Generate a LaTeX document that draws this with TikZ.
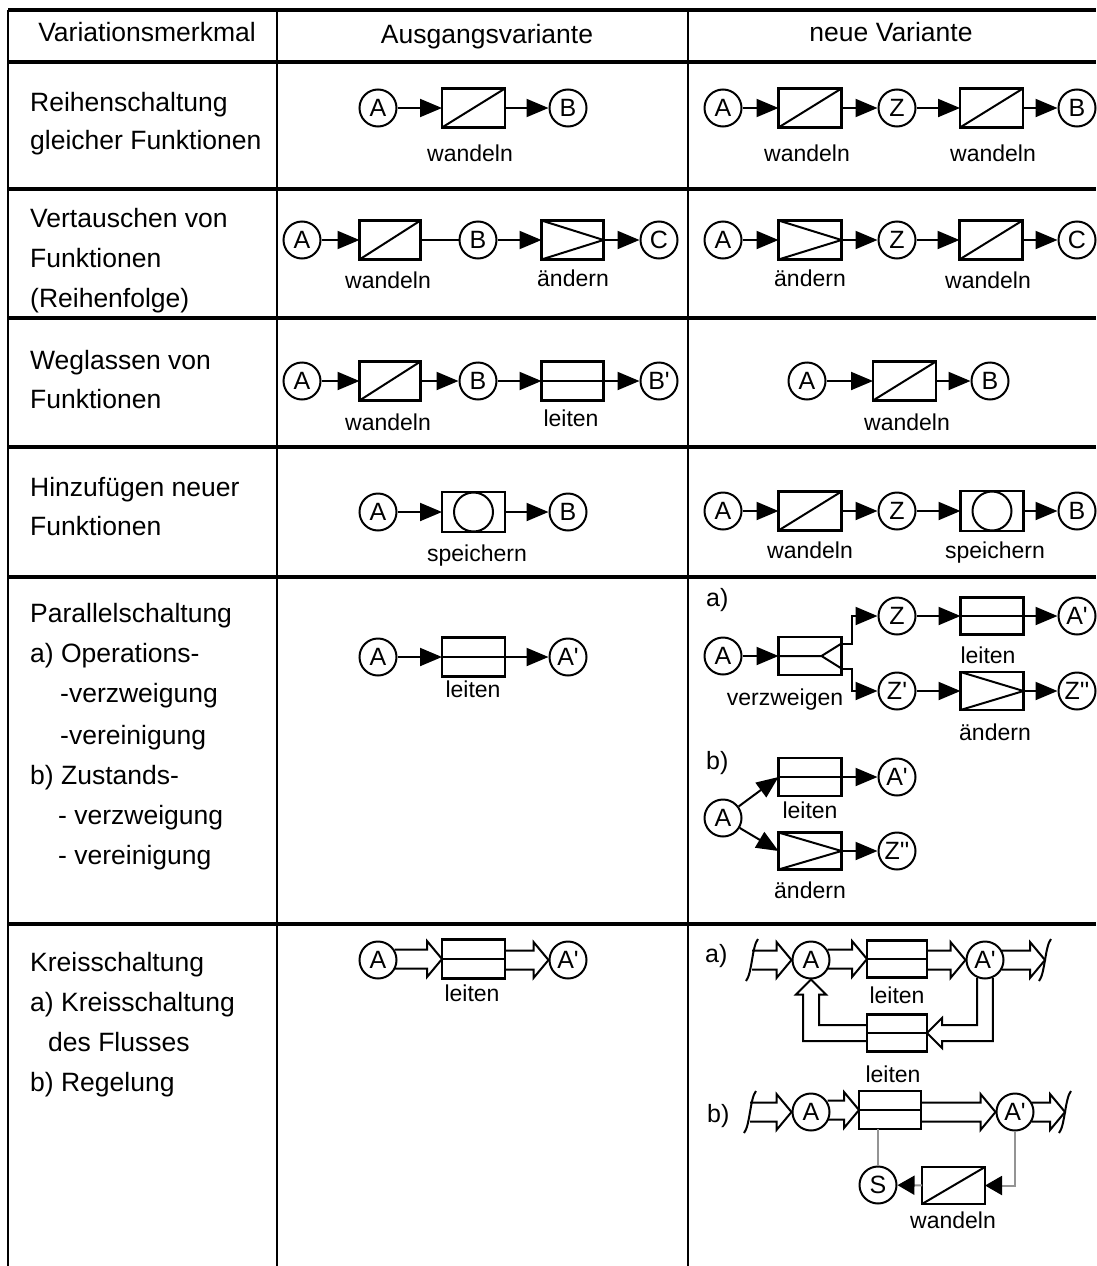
\documentclass[tikz,border=0pt]{standalone}
\usepackage{fontspec}
\setmainfont{Liberation Sans}
\usetikzlibrary{arrows.meta,calc}

\newcommand\pq{\textquotesingle}
% function symbols drawn inside a box node
\newcommand\fwand[1]{\draw[sym] (#1.south west) -- (#1.north east);}
\newcommand\fleit[1]{\draw[sym] (#1.west) -- (#1.east);}
\newcommand\faend[1]{\draw[sym] (#1.north west) -- (#1.east) -- (#1.south west);}
\newcommand\fspei[1]{\draw[sym] (#1.center) circle[radius=19.5pt];}
\newcommand\fverz[1]{\draw[sym] (#1.west) -- ($(#1.east)+(-20,0)$) -- ($(#1.east)+(0,-12.5)$)
  ($(#1.east)+(-20,0)$) -- ($(#1.east)+(0,12.5)$);}
% hollow flow arrow (horizontal): x of #1 is the tail, #2 is the tip
\newcommand\harr[2]{\draw[hol] let \p1=#1, \p2=#2 in
  (\x1,\y2+9.5pt) -- (\x2-15pt,\y2+9.5pt) -- (\x2-15pt,\y2+18pt) -- (\p2)
  -- (\x2-15pt,\y2-18pt) -- (\x2-15pt,\y2-9.5pt) -- (\x1,\y2-9.5pt);}
% cut mark at an open end of a flow
\newcommand\cutmark[1]{\draw[sym] ($#1+(6,-21)$) .. controls ($#1+(0,-14)$) and ($#1+(0,14)$) .. ($#1+(-6,21)$);}

\tikzset{
  every node/.style={inner sep=0pt},
  circ/.style={circle,draw,line width=2pt,minimum size=37pt,fill=white,
    font=\fontsize{25}{25}\selectfont},
  fbox/.style={draw,line width=2.2pt,minimum width=63pt,minimum height=39pt,outer sep=0pt},
  lbl/.style={font=\fontsize{23}{23}\selectfont,anchor=base},
  txt/.style={font=\fontsize{26.5}{30}\selectfont,anchor=base west},
  head/.style={font=\fontsize{26.5}{30}\selectfont,anchor=base},
  part/.style={font=\fontsize{25}{25}\selectfont,anchor=base west},
  sym/.style={line width=2pt},
  plain/.style={line width=2pt},
  flow/.style={line width=2pt,-{Triangle[length=22pt,width=18pt]}},
  hol/.style={line width=2pt,line join=miter},
  sig/.style={line width=2pt,draw=black!42},
  sigarr/.style={sig,-{Triangle[length=17pt,width=19pt,color=black]}},
  rowline/.style={line width=3.5pt},
  colline/.style={line width=2pt},
}

\begin{document}
\begin{tikzpicture}[x=1pt,y=-1pt]
\useasboundingbox (0,0) rectangle (1096,1266);

% ---------- table grid ----------
\foreach \yy in {10,62,189,318,447,577,924}
  \draw[rowline] (8,\yy) -- (1096,\yy);
\foreach \xx in {8,277,688}
  \draw[colline] (\xx,10) -- (\xx,1266);

% ---------- header ----------
\node[head] (h1) at (147,41.5) {Variationsmerkmal};
\node[head] (h2) at (487,43) {Ausgangsvariante};
\node[head] (h3) at (891,41.5) {neue Variante};

% ---------- left column ----------
\node[txt] at (30,111) {Reihenschaltung};
\node[txt] at (30,149.5) {gleicher Funktionen};
\node[txt] at (30,227.5) {Vertauschen von};
\node[txt] at (30,267.5) {Funktionen};
\node[txt] at (30,307.5) {(Reihenfolge)};
\node[txt] at (30,369) {Weglassen von};
\node[txt] at (30,408) {Funktionen};
\node[txt] at (30,496) {Hinzufügen neuer};
\node[txt] at (30,535) {Funktionen};
\node[txt] at (30,622) {Parallelschaltung};
\node[txt] at (30,662) {a) Operations-};
\node[txt] at (60,702) {-verzweigung};
\node[txt] at (60,744) {-vereinigung};
\node[txt] at (30,784) {b) Zustands-};
\node[txt] at (58,824) {- verzweigung};
\node[txt] at (58,864) {- vereinigung};
\node[txt] at (30,971) {Kreisschaltung};
\node[txt] at (30,1011) {a) Kreisschaltung};
\node[txt] at (48,1051) {des Flusses};
\node[txt] at (30,1091) {b) Regelung};

% ---------- row 1: Reihenschaltung ----------
\node[circ] (a1A) at (378,108) {A};
\node[fbox] (a1W) at (473.5,108) {};
\node[circ] (a1B) at (568,108) {B};
\draw[flow] (a1A) -- (a1W);
\draw[flow] (a1W) -- (a1B);
\fwand{a1W}
\node[lbl] at (470,161) {wandeln};

\node[circ] (n1A) at (723,108) {A};
\node[fbox] (n1W1) at (810,108) {};
\node[circ] (n1Z) at (897,108) {Z};
\node[fbox] (n1W2) at (991.5,108) {};
\node[circ] (n1B) at (1077,108) {B};
\draw[flow] (n1A) -- (n1W1);
\draw[flow] (n1W1) -- (n1Z);
\draw[flow] (n1Z) -- (n1W2);
\draw[flow] (n1W2) -- (n1B);
\fwand{n1W1} \fwand{n1W2}
\node[lbl] at (807,161) {wandeln};
\node[lbl] at (993,161) {wandeln};

% ---------- row 2: Vertauschen ----------
\node[circ] (a2A) at (302,240) {A};
\node[fbox,minimum width=61pt] (a2W) at (390,240) {};
\node[circ] (a2B) at (478,240) {B};
\node[fbox,minimum width=62pt] (a2N) at (572.5,240) {};
\node[circ] (a2C) at (659,240) {C};
\draw[flow] (a2A) -- (a2W);
\draw[plain] (a2W) -- (a2B);
\draw[flow] (a2B) -- (a2N);
\draw[flow] (a2N) -- (a2C);
\fwand{a2W} \faend{a2N}
\node[lbl] at (388,288) {wandeln};
\node[lbl] at (573,286) {ändern};

\node[circ] (n2A) at (723,240) {A};
\node[fbox] (n2N) at (810,240) {};
\node[circ] (n2Z) at (897,240) {Z};
\node[fbox] (n2W) at (991,240) {};
\node[circ] (n2C) at (1077,240) {C};
\draw[flow] (n2A) -- (n2N);
\draw[flow] (n2N) -- (n2Z);
\draw[flow] (n2Z) -- (n2W);
\draw[flow] (n2W) -- (n2C);
\faend{n2N} \fwand{n2W}
\node[lbl] at (810,286) {ändern};
\node[lbl] at (988,288) {wandeln};

% ---------- row 3: Weglassen ----------
\node[circ] (a3A) at (302,381) {A};
\node[fbox,minimum width=61pt] (a3W) at (390,381) {};
\node[circ] (a3B) at (478,381) {B};
\node[fbox,minimum width=62pt] (a3L) at (572.5,381) {};
\node[circ] (a3Bp) at (659,381) {B\pq};
\draw[flow] (a3A) -- (a3W);
\draw[flow] (a3W) -- (a3B);
\draw[flow] (a3B) -- (a3L);
\draw[flow] (a3L) -- (a3Bp);
\fwand{a3W} \fleit{a3L}
\node[lbl] at (388,430) {wandeln};
\node[lbl] at (571,426) {leiten};

\node[circ] (n3A) at (807,381) {A};
\node[fbox] (n3W) at (904.5,381) {};
\node[circ] (n3B) at (990,381) {B};
\draw[flow] (n3A) -- (n3W);
\draw[flow] (n3W) -- (n3B);
\fwand{n3W}
\node[lbl] at (907,430) {wandeln};

% ---------- row 4: Hinzufuegen ----------
\node[circ] (a4A) at (378,512) {A};
\node[fbox,minimum height=40pt] (a4S) at (473.5,512) {};
\node[circ] (a4B) at (568,512) {B};
\draw[flow] (a4A) -- (a4S);
\draw[flow] (a4S) -- (a4B);
\fspei{a4S}
\node[lbl] at (477,561) {speichern};

\node[circ] (n4A) at (723,511) {A};
\node[fbox] (n4W) at (810,511) {};
\node[circ] (n4Z) at (897,511) {Z};
\node[fbox,minimum height=40pt] (n4S) at (992,511) {};
\node[circ] (n4B) at (1077,511) {B};
\draw[flow] (n4A) -- (n4W);
\draw[flow] (n4W) -- (n4Z);
\draw[flow] (n4Z) -- (n4S);
\draw[flow] (n4S) -- (n4B);
\fwand{n4W} \fspei{n4S}
\node[lbl] at (810,558) {wandeln};
\node[lbl] at (995,558) {speichern};

% ---------- row 5: Parallelschaltung ----------
\node[circ] (a5A) at (378,657) {A};
\node[fbox] (a5L) at (473.5,657) {};
\node[circ] (a5Ap) at (568,657) {A\pq};
\draw[flow] (a5A) -- (a5L);
\draw[flow] (a5L) -- (a5Ap);
\fleit{a5L}
\node[lbl] at (473,697) {leiten};

% a) operation branching
\node[part] at (706,606) {a)};
\node[circ] (p5A) at (723,656) {A};
\node[fbox,minimum height=38pt] (p5V) at (810,656) {};
\node[circ] (p5Z) at (897,616) {Z};
\node[fbox,minimum height=37pt] (p5L) at (992,616) {};
\node[circ] (p5Ap) at (1077,616) {A\pq};
\node[circ] (p5Zp) at (897,691) {Z\pq};
\node[fbox,minimum height=38pt] (p5N) at (992,691) {};
\node[circ] (p5Zpp) at (1077,691) {Z\pq\pq};
\draw[flow] (p5A) -- (p5V);
\draw[flow] ($(p5V.east)+(0,-12.5)$) -- ++(10,0) |- (p5Z);
\draw[flow] ($(p5V.east)+(0,12.5)$) -- ++(10,0) |- (p5Zp);
\draw[flow] (p5Z) -- (p5L);
\draw[flow] (p5L) -- (p5Ap);
\draw[flow] (p5Zp) -- (p5N);
\draw[flow] (p5N) -- (p5Zpp);
\fverz{p5V} \fleit{p5L} \faend{p5N}
\node[lbl] at (785,705) {verzweigen};
\node[lbl] at (988,663) {leiten};
\node[lbl] at (995,740) {ändern};

% b) state branching
\node[part] at (706,769) {b)};
\node[circ] (q5A) at (723,818) {A};
\node[fbox,minimum height=38pt] (q5L) at (810,777) {};
\node[circ] (q5Ap) at (897,777) {A\pq};
\node[fbox,minimum height=37pt] (q5N) at (810,851) {};
\node[circ] (q5Zpp) at (897,851) {Z\pq\pq};
\draw[flow] (q5A) -- (q5L.west);
\draw[flow] (q5A) -- (q5N.west);
\draw[flow] (q5L) -- (q5Ap);
\draw[flow] (q5N) -- (q5Zpp);
\fleit{q5L} \faend{q5N}
\node[lbl] at (810,818) {leiten};
\node[lbl] at (810,898) {ändern};

% ---------- row 6: Kreisschaltung ----------
\node[circ] (a6A) at (378,960) {A};
\node[fbox] (a6L) at (473.5,959) {};
\node[circ] (a6Ap) at (568,960) {A\pq};
\harr{(a6A.31)}{(a6L.west)}
\harr{(a6L.east)}{(a6Ap.west)}
\fleit{a6L}
\node[lbl] at (472,1001) {leiten};

% a) circulation of the flow
\node[part] at (705,962) {a)};
\coordinate (k6in) at (752,960);
\coordinate (k6out) at (1045,960);
\node[circ] (k6A) at (811,960) {A};
\node[fbox,minimum width=60pt,minimum height=37pt] (k6L1) at (897,959) {};
\node[circ] (k6Ap) at (985,960) {A\pq};
\node[fbox,minimum width=60pt,minimum height=37pt] (k6L2) at (897,1033) {};
\cutmark{(k6in)} \cutmark{(k6out)}
\harr{(k6in)}{(k6A.west)}
\harr{(k6A.31)}{(k6L1.west)}
\harr{(k6L1.east)}{(k6Ap.west)}
\harr{(k6Ap.31)}{(k6out)}
\fleit{k6L1} \fleit{k6L2}
% return flow A' -> lower box -> A
\draw[hol] let \p1=(k6Ap.-114), \p2=(k6Ap.-66), \p3=(k6L2.east) in
  (\p1) -- (\x1,\y3+8pt) -- (\x3+15pt,\y3+8pt) -- (\x3+15pt,\y3+15pt) -- (\p3)
  -- (\x3+15pt,\y3-15pt) -- (\x3+15pt,\y3-8pt) -- (\x2,\y3-8pt) -- (\p2);
\draw[hol] let \p1=(k6L2.west), \p2=(k6A.south) in
  (\x1,\y1+8pt) -- (\x2+8pt,\y1+8pt) -- (\x2+8pt,\y2-15pt) -- (\x2+15pt,\y2-15pt) -- (\p2)
  -- (\x2-15pt,\y2-15pt) -- (\x2-8pt,\y2-15pt) -- (\x2-8pt,\y1-8pt) -- (\x1,\y1-8pt);
\node[lbl] at (897,1003) {leiten};
\node[lbl] at (893,1082) {leiten};

% b) closed-loop control
\node[part] at (707,1122) {b)};
\coordinate (r6in) at (750,1112);
\coordinate (r6out) at (1065,1112);
\node[circ] (r6A) at (811,1112) {A};
\node[fbox,minimum width=62pt,minimum height=38pt] (r6L) at (890,1110) {};
\node[circ] (r6Ap) at (1015,1112) {A\pq};
\node[circ] (r6S) at (878,1185) {S};
\node[fbox,minimum height=37pt] (r6W) at (953.5,1185.5) {};
\cutmark{(r6in)} \cutmark{(r6out)}
\harr{(r6in)}{(r6A.west)}
\harr{(r6A.31)}{(r6L.west)}
\harr{(r6L.east)}{(r6Ap.west)}
\harr{(r6Ap.31)}{(r6out)}
\fleit{r6L} \fwand{r6W}
\draw[sig] (r6S.north) -- (r6S.north |- r6L.south);
\draw[sigarr] (r6Ap.south) |- (r6W);
\draw[sigarr] (r6W) -- (r6S);
\node[lbl] at (953,1228) {wandeln};
\end{tikzpicture}
\end{document}
